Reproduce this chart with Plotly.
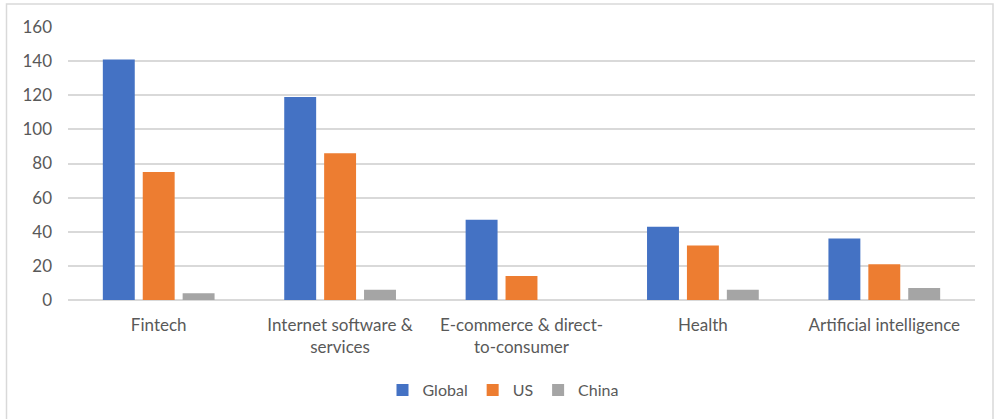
import plotly.graph_objects as go

# Deal counts by sector
categories = [
    "Fintech",
    "Internet software &<br>services",
    "E-commerce & direct-<br>to-consumer",
    "Health",
    "Artificial intelligence",
]
global_vals = [141, 119, 47, 43, 36]
us_vals = [75, 86, 14, 32, 21]
china_vals = [4, 6, 0, 6, 7]

series = [
    ("Global", global_vals, "#4472C4"),
    ("US", us_vals, "#ED7D31"),
    ("China", china_vals, "#A5A5A5"),
]

W, H = 995, 419
ML, MR, MT, MB = 68, 20, 27, 119
plot_w = W - ML - MR
plot_h = H - MT - MB

fig = go.Figure()
for name, vals, color in series:
    fig.add_trace(go.Bar(
        x=categories, y=vals, name=name,
        marker=dict(color=color, line=dict(width=0)),
    ))

font_family = "Lato, 'Open Sans', sans-serif"

fig.update_layout(
    width=W, height=H,
    margin=dict(l=ML, r=MR, t=MT, b=MB),
    paper_bgcolor="white", plot_bgcolor="white",
    barmode="group", bargap=0.34, bargroupgap=0.2,
    font=dict(family=font_family, color="#595959", size=17),
    showlegend=True,
    legend=dict(
        orientation="h", x=(503 - ML) / plot_w, xanchor="center",
        y=-(390 - (H - MB)) / plot_h, yanchor="middle",
        font=dict(size=16, color="#595959"),
        itemwidth=30, traceorder="normal",
    ),
    xaxis=dict(
        showgrid=False, showline=False, ticks="",
        tickfont=dict(size=17, color="#595959"),
        ticklabelstandoff=13,
    ),
    yaxis=dict(
        range=[0, 160], dtick=20, showgrid=True, gridcolor="#D9D9D9", gridwidth=1.5,
        zeroline=True, zerolinecolor="#D9D9D9", zerolinewidth=1.5,
        showline=False, ticks="",
        tickfont=dict(size=17, color="#595959"),
        ticklabelstandoff=15,
    ),
)

# outer chart border
fig.add_shape(
    type="rect", xref="paper", yref="paper",
    x0=-(ML - 6.5) / plot_w, x1=(993 - ML) / plot_w,
    y0=-(H + 5 - MT - plot_h) / plot_h, y1=1 + (MT - 4) / plot_h,
    line=dict(color="#D9D9D9", width=1.5), fillcolor="rgba(0,0,0,0)",
    layer="below",
)

fig.write_html("out.html")
